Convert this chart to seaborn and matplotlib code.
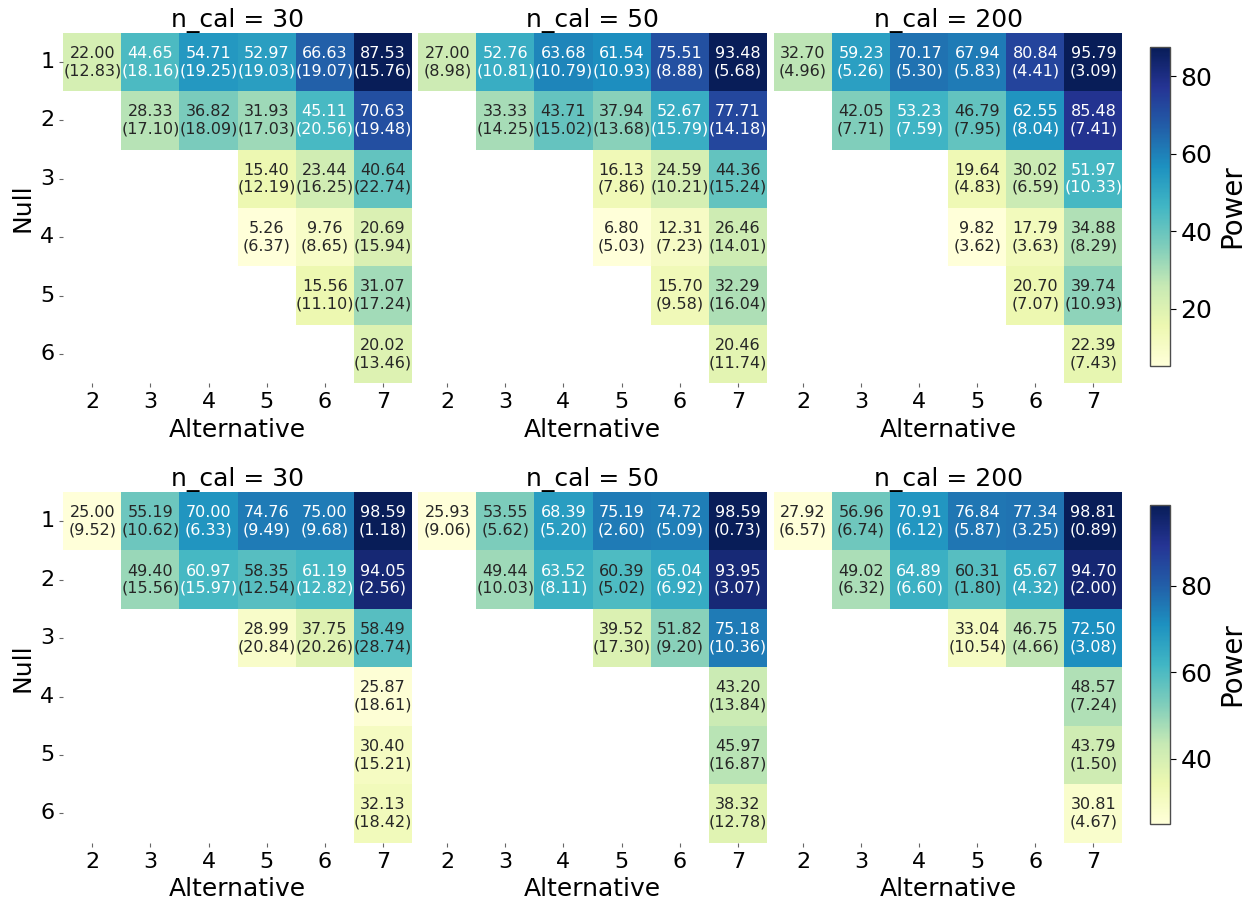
import numpy as np
import pandas as pd
import matplotlib
matplotlib.use("Agg")
import matplotlib.pyplot as plt
import seaborn as sns

NA = np.nan

null_labels = [1, 2, 3, 4, 5, 6]
alt_labels = [2, 3, 4, 5, 6, 7]
n_cal = [30, 50, 200]

# top row: mean power and (sd), rows = Null 1..6, cols = Alternative 2..7
top_mean_30 = [
    [22.00, 44.65, 54.71, 52.97, 66.63, 87.53],
    [NA, 28.33, 36.82, 31.93, 45.11, 70.63],
    [NA, NA, NA, 15.40, 23.44, 40.64],
    [NA, NA, NA, 5.26, 9.76, 20.69],
    [NA, NA, NA, NA, 15.56, 31.07],
    [NA, NA, NA, NA, NA, 20.02],
]
top_sd_30 = [
    [12.83, 18.16, 19.25, 19.03, 19.07, 15.76],
    [NA, 17.10, 18.09, 17.03, 20.56, 19.48],
    [NA, NA, NA, 12.19, 16.25, 22.74],
    [NA, NA, NA, 6.37, 8.65, 15.94],
    [NA, NA, NA, NA, 11.10, 17.24],
    [NA, NA, NA, NA, NA, 13.46],
]
top_mean_50 = [
    [27.00, 52.76, 63.68, 61.54, 75.51, 93.48],
    [NA, 33.33, 43.71, 37.94, 52.67, 77.71],
    [NA, NA, NA, 16.13, 24.59, 44.36],
    [NA, NA, NA, 6.80, 12.31, 26.46],
    [NA, NA, NA, NA, 15.70, 32.29],
    [NA, NA, NA, NA, NA, 20.46],
]
top_sd_50 = [
    [8.98, 10.81, 10.79, 10.93, 8.88, 5.68],
    [NA, 14.25, 15.02, 13.68, 15.79, 14.18],
    [NA, NA, NA, 7.86, 10.21, 15.24],
    [NA, NA, NA, 5.03, 7.23, 14.01],
    [NA, NA, NA, NA, 9.58, 16.04],
    [NA, NA, NA, NA, NA, 11.74],
]
top_mean_200 = [
    [32.70, 59.23, 70.17, 67.94, 80.84, 95.79],
    [NA, 42.05, 53.23, 46.79, 62.55, 85.48],
    [NA, NA, NA, 19.64, 30.02, 51.97],
    [NA, NA, NA, 9.82, 17.79, 34.88],
    [NA, NA, NA, NA, 20.70, 39.74],
    [NA, NA, NA, NA, NA, 22.39],
]
top_sd_200 = [
    [4.96, 5.26, 5.30, 5.83, 4.41, 3.09],
    [NA, 7.71, 7.59, 7.95, 8.04, 7.41],
    [NA, NA, NA, 4.83, 6.59, 10.33],
    [NA, NA, NA, 3.62, 3.63, 8.29],
    [NA, NA, NA, NA, 7.07, 10.93],
    [NA, NA, NA, NA, NA, 7.43],
]

# bottom row
bot_mean_30 = [
    [25.00, 55.19, 70.00, 74.76, 75.00, 98.59],
    [NA, 49.40, 60.97, 58.35, 61.19, 94.05],
    [NA, NA, NA, 28.99, 37.75, 58.49],
    [NA, NA, NA, NA, NA, 25.87],
    [NA, NA, NA, NA, NA, 30.40],
    [NA, NA, NA, NA, NA, 32.13],
]
bot_sd_30 = [
    [9.52, 10.62, 6.33, 9.49, 9.68, 1.18],
    [NA, 15.56, 15.97, 12.54, 12.82, 2.56],
    [NA, NA, NA, 20.84, 20.26, 28.74],
    [NA, NA, NA, NA, NA, 18.61],
    [NA, NA, NA, NA, NA, 15.21],
    [NA, NA, NA, NA, NA, 18.42],
]
bot_mean_50 = [
    [25.93, 53.55, 68.39, 75.19, 74.72, 98.59],
    [NA, 49.44, 63.52, 60.39, 65.04, 93.95],
    [NA, NA, NA, 39.52, 51.82, 75.18],
    [NA, NA, NA, NA, NA, 43.20],
    [NA, NA, NA, NA, NA, 45.97],
    [NA, NA, NA, NA, NA, 38.32],
]
bot_sd_50 = [
    [9.06, 5.62, 5.20, 2.60, 5.09, 0.73],
    [NA, 10.03, 8.11, 5.02, 6.92, 3.07],
    [NA, NA, NA, 17.30, 9.20, 10.36],
    [NA, NA, NA, NA, NA, 13.84],
    [NA, NA, NA, NA, NA, 16.87],
    [NA, NA, NA, NA, NA, 12.78],
]
bot_mean_200 = [
    [27.92, 56.96, 70.91, 76.84, 77.34, 98.81],
    [NA, 49.02, 64.89, 60.31, 65.67, 94.70],
    [NA, NA, NA, 33.04, 46.75, 72.50],
    [NA, NA, NA, NA, NA, 48.57],
    [NA, NA, NA, NA, NA, 43.79],
    [NA, NA, NA, NA, NA, 30.81],
]
bot_sd_200 = [
    [6.57, 6.74, 6.12, 5.87, 3.25, 0.89],
    [NA, 6.32, 6.60, 1.80, 4.32, 2.00],
    [NA, NA, NA, 10.54, 4.66, 3.08],
    [NA, NA, NA, NA, NA, 7.24],
    [NA, NA, NA, NA, NA, 1.50],
    [NA, NA, NA, NA, NA, 4.67],
]

rows = [
    [(top_mean_30, top_sd_30), (top_mean_50, top_sd_50), (top_mean_200, top_sd_200)],
    [(bot_mean_30, bot_sd_30), (bot_mean_50, bot_sd_50), (bot_mean_200, bot_sd_200)],
]


def make_annot(mean, sd):
    m = np.array(mean, dtype=float)
    s = np.array(sd, dtype=float)
    out = np.empty(m.shape, dtype=object)
    for i in range(m.shape[0]):
        for j in range(m.shape[1]):
            out[i, j] = "" if np.isnan(m[i, j]) else f"{m[i, j]:.2f}\n({s[i, j]:.2f})"
    return out


plt.rcParams["font.family"] = ["DejaVu Sans"]

fig = plt.figure(figsize=(12.49, 9.07), dpi=100)

lefts = [0.0507, 0.3349, 0.6197]
bottoms = [0.5774, 0.0709]
W, H = 0.279, 0.3866
cbar_bottoms = [0.5965, 0.0915]

for r, row in enumerate(rows):
    cax = fig.add_axes([0.9207, cbar_bottoms[r], 0.016, 0.3517])
    for c, (mean, sd) in enumerate(row):
        ax = fig.add_axes([lefts[c], bottoms[r], W, H])
        df = pd.DataFrame(mean, index=null_labels, columns=alt_labels)
        first = c == 0
        sns.heatmap(df, ax=ax, cmap="YlGnBu", annot=make_annot(mean, sd), fmt="",
                    annot_kws={"fontsize": 11.5}, linewidths=0,
                    cbar=first, cbar_ax=cax if first else None)
        ax.set_title(f"n_cal = {n_cal[c]}", fontsize=18, pad=4)
        ax.set_xlabel("Alternative", fontsize=18)
        ax.tick_params(axis="x", labelsize=16, length=3, color="0.4", bottom=True)
        if first:
            ax.set_ylabel("Null", fontsize=18)
            ax.tick_params(axis="y", labelsize=16, length=3, color="0.4",
                           left=True, labelrotation=0)
        else:
            ax.set_ylabel("")
            ax.set_yticks([])
        if first:
            cb = ax.collections[0].colorbar
            cb.set_label("Power", fontsize=20)
            cb.ax.tick_params(labelsize=18, length=4)
            cb.outline.set_visible(True)
            cb.outline.set_edgecolor("0.3")
            cb.outline.set_linewidth(1)

fig.savefig("out.png", dpi=100)
